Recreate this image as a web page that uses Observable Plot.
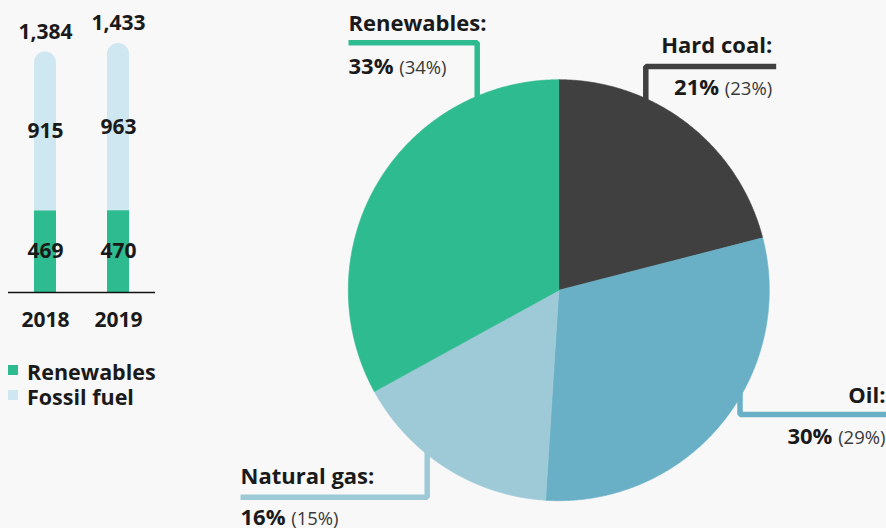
<!DOCTYPE html>
<html>
<head>
<meta charset="utf-8">
<script src="https://cdn.jsdelivr.net/npm/d3@7"></script>
<script src="https://cdn.jsdelivr.net/npm/@observablehq/plot@0.6"></script>
<style>
  html, body { margin: 0; padding: 0; background: #f8f8f8; }
  #root { position: relative; width: 886px; height: 528px; overflow: hidden; background: #f8f8f8; font-family: 'Open Sans', sans-serif; color: #1a1a1a; }
  #bars { position: absolute; left: 0; top: 0; }
  #pie { position: absolute; left: 220px; top: 0; }
  #legend { position: absolute; left: 8px; top: 359.2px; font-size: 21.5px; font-weight: 700; line-height: 25px; }
  .item { position: relative; height: 25px; padding-left: 19px; white-space: nowrap; }
  .sw { position: absolute; left: 0; top: 5.8px; width: 10px; height: 10px; }
</style>
</head>
<body>
<div id="root">
  <div id="bars"></div>
  <div id="legend"></div>
  <div id="pie"></div>
</div>
<script>
// ---- Data: bar chart ----
const years = ["2018", "2019"];
const renewables = [469, 470];
const fossil = [915, 963];
const seriesNames = ["Renewables", "Fossil fuel"];

// ---- Data: pie chart (current share, previous-year share in brackets) ----
const sliceNames = ["Hard coal", "Oil", "Natural gas", "Renewables"];
const sharesNow = [21, 30, 16, 33];
const sharesPrev = [23, 29, 15, 34];

// ---- Styles ----
const green = "#2ebb8f";
const lightBlue = "#cfe7f1";
const pieColors = ["#404040", "#69b0c6", "#9ecad8", "#2ebb8f"];
const ink = "#1a1a1a";
const font = "'Open Sans', sans-serif";
const barFont = 21;
const pieFont = 22;

// ===== Bar chart =====
const table = years.map((y, i) => ({
  year: y, renewables: renewables[i], fossil: fossil[i], total: renewables[i] + fossil[i]
}));

const bars = Plot.plot({
  width: 163, height: 340,
  marginLeft: 8, marginRight: 8, marginTop: 0, marginBottom: 48,
  style: { background: "transparent", fontFamily: font, fontSize: barFont + "px", fontWeight: 700, color: ink, overflow: "visible" },
  x: { domain: years, paddingInner: 0.7027, paddingOuter: 0.3446, tickSize: 0, tickPadding: 20, label: null },
  y: { domain: [0, 1680], axis: null },
  marks: [
    Plot.barY(table, { x: "year", y: "total", fill: lightBlue, rx: 11 }),
    Plot.barY(table, { x: "year", y: "renewables", fill: green }),
    Plot.ruleY([0], { stroke: "#111", strokeWidth: 1.6 }),
    Plot.text(table, { x: "year", y: "total", text: d => d3.format(",")(d.total), dy: -13, lineAnchor: "bottom", fontSize: barFont, fontWeight: 700, fill: ink }),
    Plot.text(table, { x: "year", y: d => d.renewables + d.fossil / 2, text: d => String(d.fossil), lineAnchor: "middle", fontSize: barFont, fontWeight: 700, fill: ink }),
    Plot.text(table, { x: "year", y: d => d.renewables / 2, text: d => String(d.renewables), lineAnchor: "middle", fontSize: barFont, fontWeight: 700, fill: ink })
  ]
});
document.getElementById("bars").appendChild(bars);

// Legend
const legend = document.getElementById("legend");
[green, lightBlue].forEach((c, i) => {
  const it = document.createElement("div");
  it.className = "item";
  it.innerHTML = `<span class="sw" style="background:${c}"></span>${seriesNames[i]}`;
  legend.appendChild(it);
});

// ===== Pie chart =====
const R = 210.5;
const arcs = d3.pie().sort(null).value(d => d)(sharesNow);
const polys = [];
arcs.forEach((a, i) => {
  const name = sliceNames[i];
  const n = Math.max(2, Math.ceil((a.endAngle - a.startAngle) / (Math.PI / 360)));
  polys.push({ name, x: 0, y: 0 });
  for (let k = 0; k <= n; k++) {
    const t = a.startAngle + (a.endAngle - a.startAngle) * k / n;
    polys.push({ name, x: R * Math.sin(t), y: R * Math.cos(t) });
  }
  polys.push({ name, x: 0, y: 0 });
});

// Annotation layout (pixel offsets from pie centre, y up)
const labelLayout = [
  { name: "Hard coal",   vx: 87,     hy: 223.7,  hx: 217.4,  tx: 213.4,  anchor: "end",   ty1: 237.7,  ty2: 195.7 },
  { name: "Oil",         vx: 181.2,  hy: -124.3, hx: 340,    tx: 326.7,  anchor: "end",   ty1: -112.3, ty2: -153.3 },
  { name: "Natural gas", vx: -131.6, hy: -207,   hx: -318.3, tx: -318.3, anchor: "start", ty1: -193.3, ty2: -234.5 },
  { name: "Renewables",  vx: -81.6,  hy: 247.5,  hx: -210.3, tx: -210.3, anchor: "start", ty1: 259.7,  ty2: 216.7 }
];
const leaderPts = [];
labelLayout.forEach(l => {
  const s = Math.sign(l.hy);
  const inner = s * Math.sqrt(R * R - l.vx * l.vx) * 0.85;
  leaderPts.push({ name: l.name, x: l.vx, y: inner });
  leaderPts.push({ name: l.name, x: l.vx, y: l.hy });
  leaderPts.push({ name: l.name, x: l.hx, y: l.hy });
});
const idx = name => sliceNames.indexOf(name);
const valueText = d => `${sharesNow[idx(d.name)]}%|(${sharesPrev[idx(d.name)]}%)`;

const textMarks = [];
["start", "end"].forEach(anchor => {
  const sub = labelLayout.filter(l => l.anchor === anchor);
  textMarks.push(Plot.text(sub, { x: "tx", y: "ty1", text: d => d.name + ":", textAnchor: anchor, lineAnchor: "bottom", fontSize: pieFont, fontWeight: 700, fill: ink }));
  textMarks.push(Plot.text(sub, { x: "tx", y: "ty2", text: valueText, textAnchor: anchor, lineAnchor: "bottom", fontSize: pieFont, fontWeight: 700, fill: ink }));
});

const cx = 558.3 - 220, cy = 289.7;
const pie = Plot.plot({
  width: 666, height: 528,
  margin: 0,
  style: { background: "transparent", fontFamily: font, color: ink, overflow: "visible" },
  x: { domain: [-cx, 666 - cx], axis: null },
  y: { domain: [-(528 - cy), cy], axis: null },
  color: { domain: sliceNames, range: pieColors },
  marks: [
    Plot.line(leaderPts, { x: "x", y: "y", z: "name", stroke: "name", strokeWidth: 5.5, strokeLinejoin: "miter", strokeLinecap: "butt", curve: "linear" }),
    Plot.line(polys, { x: "x", y: "y", z: "name", fill: "name", stroke: "name", strokeWidth: 0.6, curve: "linear" }),
    ...textMarks
  ]
});
document.getElementById("pie").appendChild(pie);

// Mixed-weight value labels: bold current share, regular previous share
pie.querySelectorAll("text").forEach(el => {
  const t = el.textContent;
  if (t.includes("|")) {
    const [a, b] = t.split("|");
    el.textContent = "";
    const ns = "http://www.w3.org/2000/svg";
    const t1 = document.createElementNS(ns, "tspan");
    t1.setAttribute("font-weight", "700");
    t1.setAttribute("font-size", String(pieFont));
    t1.textContent = a + " ";
    const t2 = document.createElementNS(ns, "tspan");
    t2.setAttribute("font-weight", "400");
    t2.setAttribute("font-size", "18.5");
    t2.setAttribute("fill", "#3a3a3a");
    t2.textContent = b;
    el.appendChild(t1);
    el.appendChild(t2);
  }
});
</script>
</body>
</html>
